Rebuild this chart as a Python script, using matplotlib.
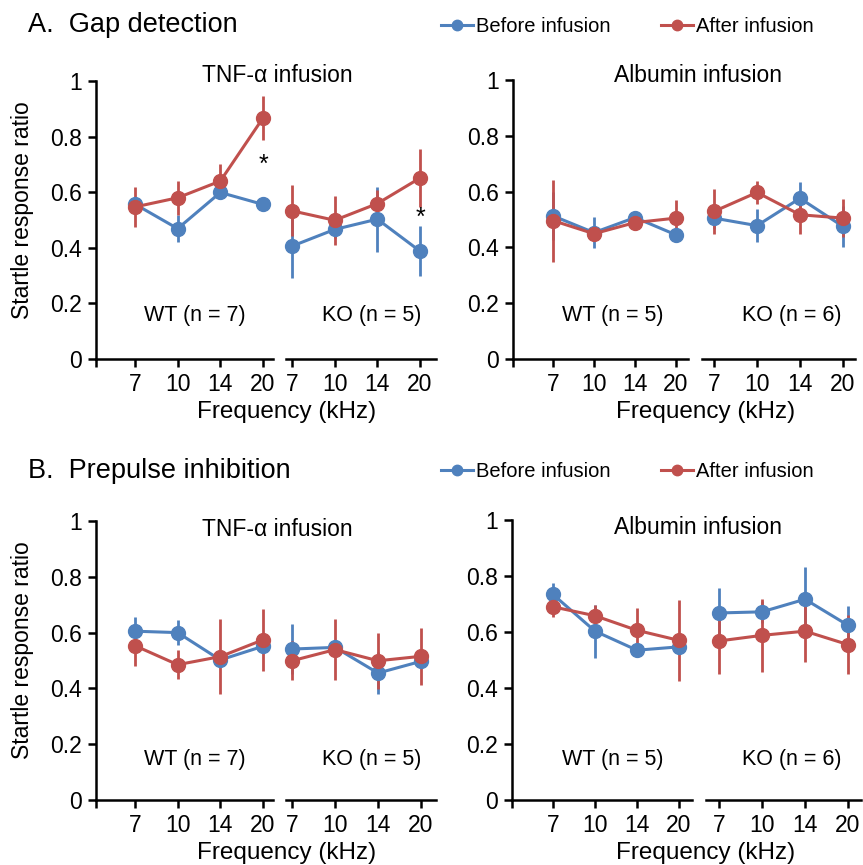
import numpy as np
import matplotlib
matplotlib.use("Agg")
import matplotlib.pyplot as plt

plt.rcParams['font.family'] = ['Liberation Sans', 'DejaVu Sans']

W, H = 863, 865

freqs = ['7', '10', '14', '20']
blue = '#4F81BD'
red = '#C0504D'

# ---- A. Gap detection (mean, error)
gap_tnf_wt_before = [0.557, 0.469, 0.599, 0.556]
gap_tnf_wt_before_err = [0.02, 0.048, 0.02, 0.01]
gap_tnf_wt_after = [0.547, 0.580, 0.640, 0.867]
gap_tnf_wt_after_err = [0.072, 0.062, 0.063, 0.078]
gap_tnf_ko_before = [0.406, 0.466, 0.503, 0.388]
gap_tnf_ko_before_err = [0.116, 0.03, 0.117, 0.09]
gap_tnf_ko_after = [0.533, 0.499, 0.559, 0.651]
gap_tnf_ko_after_err = [0.092, 0.089, 0.05, 0.103]

gap_alb_wt_before = [0.513, 0.453, 0.507, 0.445]
gap_alb_wt_before_err = [0.085, 0.055, 0.02, 0.01]
gap_alb_wt_after = [0.496, 0.449, 0.489, 0.505]
gap_alb_wt_after_err = [0.147, 0.02, 0.02, 0.065]
gap_alb_ko_before = [0.505, 0.478, 0.576, 0.475]
gap_alb_ko_before_err = [0.04, 0.06, 0.06, 0.075]
gap_alb_ko_after = [0.529, 0.597, 0.517, 0.505]
gap_alb_ko_after_err = [0.08, 0.04, 0.07, 0.068]

# ---- B. Prepulse inhibition
ppi_tnf_wt_before = [0.605, 0.600, 0.502, 0.551]
ppi_tnf_wt_before_err = [0.05, 0.045, 0.02, 0.02]
ppi_tnf_wt_after = [0.553, 0.485, 0.514, 0.574]
ppi_tnf_wt_after_err = [0.074, 0.052, 0.133, 0.11]
ppi_tnf_ko_before = [0.541, 0.547, 0.455, 0.497]
ppi_tnf_ko_before_err = [0.09, 0.02, 0.075, 0.02]
ppi_tnf_ko_after = [0.499, 0.539, 0.499, 0.515]
ppi_tnf_ko_after_err = [0.07, 0.108, 0.1, 0.103]

ppi_alb_wt_before = [0.734, 0.603, 0.535, 0.547]
ppi_alb_wt_before_err = [0.04, 0.095, 0.02, 0.02]
ppi_alb_wt_after = [0.690, 0.658, 0.606, 0.570]
ppi_alb_wt_after_err = [0.035, 0.04, 0.078, 0.145]
ppi_alb_ko_before = [0.668, 0.672, 0.717, 0.624]
ppi_alb_ko_before_err = [0.09, 0.04, 0.115, 0.068]
ppi_alb_ko_after = [0.568, 0.588, 0.603, 0.555]
ppi_alb_ko_after_err = [0.117, 0.13, 0.11, 0.104]

fig = plt.figure(figsize=(W / 100, H / 100), dpi=100)


def add_group(left, right, x7, x20, y0, y1, show_y):
    # build one axis segment from pixel positions
    s = (x20 - x7) / 3
    ax = fig.add_axes([left / W, 1 - y0 / H, (right - left) / W, (y0 - y1) / H])
    ax.set_xlim(1 + (left - x7) / s, 1 + (right - x7) / s)
    ax.set_ylim(0, 1)
    ax.patch.set_alpha(0)
    for sp in ['top', 'right']:
        ax.spines[sp].set_visible(False)
    ax.spines['bottom'].set_linewidth(1.8)
    ax.spines['left'].set_linewidth(1.8)
    xt = [1, 2, 3, 4]
    xl = freqs
    if show_y:
        xt = [ax.get_xlim()[0]] + xt
        xl = [''] + xl
        ax.set_yticks([0, 0.2, 0.4, 0.6, 0.8, 1])
        ax.set_yticklabels(['0', '0.2', '0.4', '0.6', '0.8', '1'])
    else:
        ax.spines['left'].set_visible(False)
        ax.set_yticks([])
    ax.set_xticks(xt)
    ax.set_xticklabels(xl)
    ax.tick_params(axis='both', direction='out', length=6, width=1.8,
                   labelsize=16.5, pad=4)
    return ax


def plot_pair(ax, before, before_err, after, after_err):
    x = np.arange(1, 5)
    hb = ax.errorbar(x, before, yerr=before_err, fmt='-o', color=blue,
                     lw=2.2, elinewidth=2, ms=10, capsize=0, clip_on=False)
    ha = ax.errorbar(x, after, yerr=after_err, fmt='-o', color=red,
                     lw=2.2, elinewidth=2, ms=10, capsize=0, clip_on=False)
    return hb.lines[0], ha.lines[0]


def ftext(px, py, s, **kw):
    fig.text(px / W, 1 - py / H, s, **kw)


panels = [
    # (y0, y1, wt geometry, ko geometry, data)
    (359, 81, (96, 273, 135, 263), (286, 436, 292, 420),
     (gap_tnf_wt_before, gap_tnf_wt_before_err, gap_tnf_wt_after, gap_tnf_wt_after_err),
     (gap_tnf_ko_before, gap_tnf_ko_before_err, gap_tnf_ko_after, gap_tnf_ko_after_err)),
    (359, 80, (513, 688, 553, 676), (702, 855, 714, 843),
     (gap_alb_wt_before, gap_alb_wt_before_err, gap_alb_wt_after, gap_alb_wt_after_err),
     (gap_alb_ko_before, gap_alb_ko_before_err, gap_alb_ko_after, gap_alb_ko_after_err)),
    (800, 521, (96, 273, 135, 263), (286, 436, 292, 421),
     (ppi_tnf_wt_before, ppi_tnf_wt_before_err, ppi_tnf_wt_after, ppi_tnf_wt_after_err),
     (ppi_tnf_ko_before, ppi_tnf_ko_before_err, ppi_tnf_ko_after, ppi_tnf_ko_after_err)),
    (800, 520, (512, 692, 553, 679), (706, 861, 719, 848),
     (ppi_alb_wt_before, ppi_alb_wt_before_err, ppi_alb_wt_after, ppi_alb_wt_after_err),
     (ppi_alb_ko_before, ppi_alb_ko_before_err, ppi_alb_ko_after, ppi_alb_ko_after_err)),
]

axes = []
handles = None
for y0, y1, wt, ko, wt_data, ko_data in panels:
    ax_wt = add_group(*wt, y0, y1, True)
    ax_ko = add_group(*ko, y0, y1, False)
    handles = plot_pair(ax_wt, *wt_data)
    plot_pair(ax_ko, *ko_data)
    axes.append((ax_wt, ax_ko))

# significance marks
axes[0][0].text(4, 0.70, '*', ha='center', va='center', fontsize=18)
axes[0][1].text(4, 0.508, '*', ha='center', va='center', fontsize=18)

# titles, axis labels
for yrow, ytitle, yfreq in [(0, 76, 412), (1, 529, 853)]:
    ftext(277, ytitle, 'TNF-α infusion', ha='center', va='center', fontsize=16.5)
    ftext(698, ytitle - 1, 'Albumin infusion', ha='center', va='center', fontsize=16.5)
    ftext(287, yfreq, 'Frequency (kHz)', ha='center', va='center', fontsize=17.5)
    ftext(706, yfreq, 'Frequency (kHz)', ha='center', va='center', fontsize=17.5)
    ftext(23, 210 if yrow == 0 else 650, 'Startle response ratio', ha='center',
          va='center', rotation=90, fontsize=16.5)

for ygrp, labels in [(316, ['WT (n = 7)', 'KO (n = 5)', 'WT (n = 5)', 'KO (n = 6)']),
                     (759, ['WT (n = 7)', 'KO (n = 5)', 'WT (n = 5)', 'KO (n = 6)'])]:
    for xg, lab in zip([195, 372, 613, 792], labels):
        ftext(xg, ygrp, lab, ha='center', va='center', fontsize=15.5)

ftext(28, 25, 'A.  Gap detection', ha='left', va='center', fontsize=19.5)
ftext(28, 471, 'B.  Prepulse inhibition', ha='left', va='center', fontsize=19.5)

for yleg in [27, 472]:
    fig.legend(handles, ['Before infusion', 'After infusion'], ncol=2,
               loc='center left', bbox_to_anchor=(441 / W, 1 - yleg / H),
               frameon=False, fontsize=14.5, handlelength=1.6, handletextpad=0.15,
               columnspacing=2.5, borderpad=0, borderaxespad=0, markerscale=0.75)

fig.savefig('out.png', dpi=100)
